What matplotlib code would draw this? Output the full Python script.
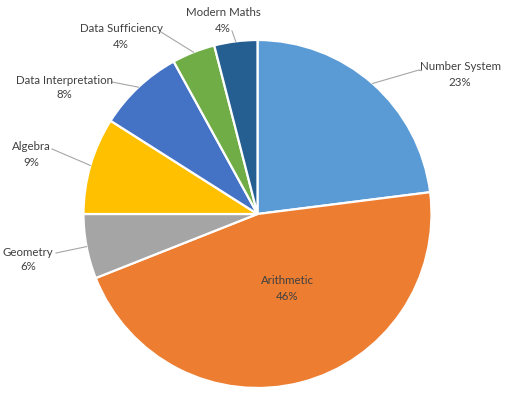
import numpy as np
import matplotlib
matplotlib.use("Agg")
import matplotlib.pyplot as plt

# ---------------------------------------------------------------------------
# Data: share of questions per topic (clockwise from 12 o'clock)
# ---------------------------------------------------------------------------
topics = ["Number System", "Arithmetic", "Geometry", "Algebra",
          "Data Interpretation", "Data Sufficiency", "Modern Maths"]
shares = [23, 46, 6, 9, 8, 4, 4]
colors = ["#5B9BD5", "#ED7D31", "#A5A5A5", "#FFC000",
          "#4472C4", "#70AD47", "#255E91"]

W, H = 505, 398
fig = plt.figure(figsize=(W / 100, H / 100), dpi=100)
ax = fig.add_axes([0, 0, 1, 1])
ax.set_xlim(0, W)
ax.set_ylim(0, H)
ax.set_aspect("equal")
ax.axis("off")

cx, cy, r = 257.5, H - 214, 174

wedges, _ = ax.pie(shares, colors=colors, startangle=90, counterclock=False,
                   center=(cx, cy), radius=r, frame=True,
                   wedgeprops=dict(edgecolor="white", linewidth=1.6))
ax.set_xlim(0, W)
ax.set_ylim(0, H)
ax.axis("off")

font = dict(family=["Lato", "DejaVu Sans"], fontsize=8.3, color="#404040")

# label layout: (text x, text y, line end x, line end y, ha) in pixel coords
layout = {
    "Number System": (460, 67, 419, 70, "center"),
    "Geometry": (28, 252, 56, 253, "center"),
    "Algebra": (31, 147, 52, 149, "center"),
    "Data Interpretation": (64, 80, 112, 82, "center"),
    "Data Sufficiency": (121, 29, 161, 32, "center"),
    "Modern Maths": (223, 13, 232, 31, "center"),
}

for w, name, pct in zip(wedges, topics, shares):
    if name == "Arithmetic":
        ax.text(287, H - 281, name, ha="center", va="center", **font)
        ax.text(287, H - 296, f"{pct}%", ha="center", va="center", **font)
        continue
    tx, ty, lx, ly, ha = layout[name]
    mid = np.deg2rad((w.theta1 + w.theta2) / 2)
    px, py = cx + r * np.cos(mid), cy + r * np.sin(mid)
    ax.plot([px, lx], [py, H - ly], color="#A6A6A6", lw=0.8)
    if name in ("Number System",):
        ax.plot([lx, lx + 2], [H - ly, H - ly], color="#A6A6A6", lw=0.8)
    ax.text(tx, H - ty, name, ha=ha, va="center", **font)
    ax.text(tx, H - ty - 15, f"{pct}%", ha=ha, va="center", **font)

fig.savefig("out.png", dpi=100, facecolor="white")
